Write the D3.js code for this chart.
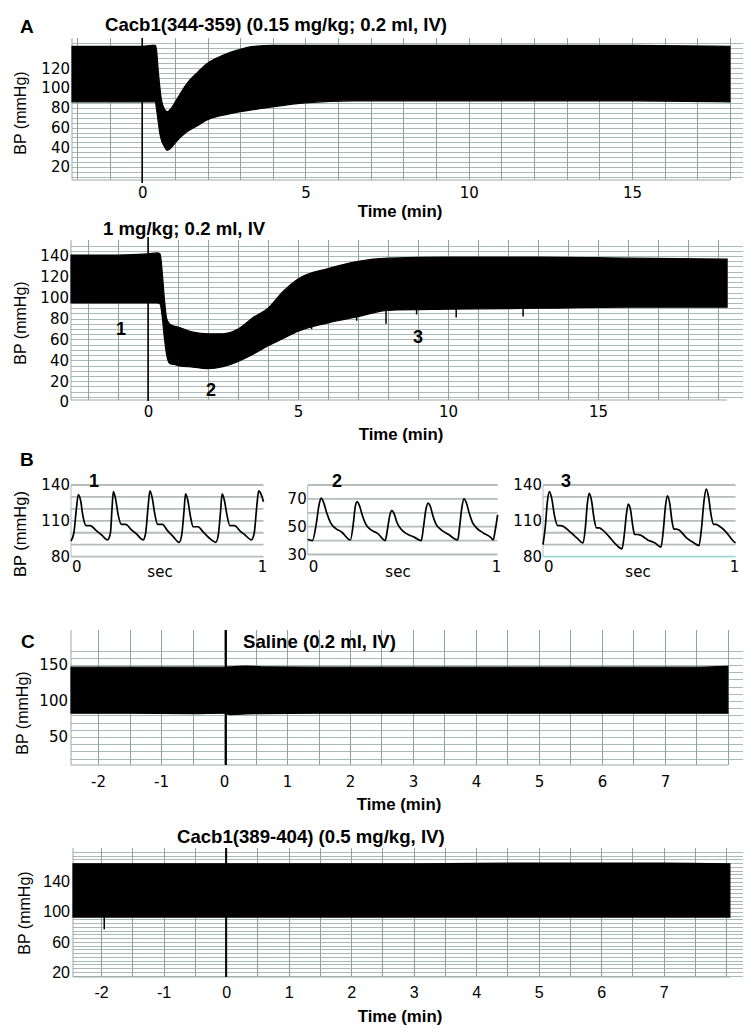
<!DOCTYPE html>
<html><head><meta charset="utf-8">
<script src="https://cdn.jsdelivr.net/npm/d3@7"></script>
<style>body{margin:0;background:#fff}svg{display:block}</style>
</head><body>
<svg id="c" width="754" height="1034"></svg>
<script>
// ---------------- DATA ----------------
// Panel A (top): Cacb1(344-359) 0.15 mg/kg — BP envelope (mmHg) vs time (min)
const a1Time  = [-2.15, -1, 0, 0.30, 0.40, 0.44, 0.49, 0.54, 0.59, 0.66, 0.77, 0.90, 1.05, 1.38, 1.70, 2.00, 2.40, 2.70, 3.00, 3.40, 4.00, 5.00, 6.50, 9, 12, 15, 18];
const a1Upper = [142, 142, 142, 143, 143, 138, 118, 101, 88, 80, 76, 80, 88, 105, 116, 125, 132, 136, 139, 142, 143, 143, 143, 143, 143, 143, 142];
const a1Lower = [86, 86, 86, 86, 86, 78, 66, 54, 47, 42, 37, 40, 46, 56, 62, 68, 72, 74, 76, 78, 81, 85, 87, 87, 87, 87, 86];
const a1YTicks = [20, 40, 60, 80, 100, 120];
const a1XTicks = [0, 5, 10, 15];

// Panel A (bottom): 1 mg/kg
const a2Time  = [-2.57, -1, 0, 0.30, 0.40, 0.47, 0.54, 0.62, 0.72, 0.85, 1.0, 1.5, 2.0, 2.5, 3.0, 3.5, 4.0, 4.5, 5.0, 6.0, 7.0, 8.0, 10, 13, 16, 19.3];
const a2Upper = [141, 141, 142, 143, 142, 125, 100, 80, 75, 73, 72, 67, 65.5, 65.5, 70, 81, 90, 106, 118, 128, 135, 138, 139, 139, 138, 137];
const a2Lower = [95, 95, 95, 95, 94, 82, 62, 45, 37, 36, 35, 33.5, 32, 34, 39, 46, 54, 61, 68, 76, 82, 88, 89, 90, 91, 91];
const a2SpikeT  = [5.45, 6.95, 7.93, 8.95, 10.27, 12.5];
const a2SpikeLo = [70, 78, 75, 84, 81, 82];
const a2YTicks = [0, 20, 40, 60, 80, 100, 120, 140];
const a2XTicks = [0, 5, 10, 15];
const a2Marks = ["1", "2", "3"];
const a2MarkT = [-0.9, 2.1, 9.0];
const a2MarkV = [70, 12, 62];

// Panel B: 1-s waveform excerpts (sec, mmHg)
const b1T = [0, 0.015, 0.028, 0.038, 0.05, 0.062, 0.078, 0.10, 0.13, 0.16, 0.19,
  0.205, 0.213, 0.22, 0.232, 0.245, 0.262, 0.285, 0.31, 0.34, 0.375,
  0.388, 0.40, 0.41, 0.422, 0.435, 0.45, 0.475, 0.50, 0.53, 0.562,
  0.575, 0.587, 0.595, 0.607, 0.62, 0.635, 0.66, 0.685, 0.715, 0.752,
  0.765, 0.777, 0.785, 0.797, 0.81, 0.825, 0.85, 0.875, 0.905, 0.937,
  0.952, 0.965, 0.975, 0.988, 1.0];
const b1V = [93, 100, 120, 132, 127, 114, 106, 106, 102, 98, 94,
  100, 120, 134.5, 128, 115, 107, 107, 103, 99, 94,
  100, 121, 135, 129, 116, 107, 107, 102, 97, 92,
  98, 118, 132.5, 127, 114, 105, 105, 101, 96, 92,
  98, 118, 132.5, 127, 115, 106, 106, 102, 98, 94,
  100, 122, 135, 132, 126];
const b2T = [0, 0.025, 0.045, 0.06, 0.071, 0.085, 0.10, 0.12, 0.145, 0.18, 0.225,
  0.24, 0.25, 0.26, 0.273, 0.288, 0.305, 0.33, 0.37, 0.408,
  0.42, 0.432, 0.443, 0.456, 0.47, 0.49, 0.52, 0.56, 0.598,
  0.61, 0.622, 0.633, 0.646, 0.66, 0.675, 0.70, 0.74, 0.79,
  0.80, 0.812, 0.823, 0.836, 0.85, 0.868, 0.89, 0.925, 0.962, 0.977,
  0.988, 1.0];
const b2V = [41, 40, 52, 66, 70.5, 67, 60, 53, 49, 46, 40.5,
  52, 64, 68, 65, 58, 52, 48, 45, 40,
  48, 58, 61.5, 59, 53, 48.5, 45, 42.5, 40,
  50, 62, 67, 64.5, 57.5, 52, 48, 44.5, 40.5,
  50, 64, 70, 67, 60, 53, 49, 45.5, 42.5, 40.5,
  48, 58.5];
const b3T = [0, 0.012, 0.022, 0.033, 0.045, 0.06, 0.076, 0.092, 0.106, 0.139, 0.177, 0.208,
  0.22, 0.23, 0.24, 0.252, 0.265, 0.278, 0.292, 0.304, 0.342, 0.38, 0.41,
  0.422, 0.433, 0.443, 0.455, 0.466, 0.476, 0.49, 0.506, 0.544, 0.582, 0.613,
  0.625, 0.636, 0.646, 0.658, 0.67, 0.68, 0.693, 0.704, 0.747, 0.785, 0.81,
  0.823, 0.836, 0.848, 0.86, 0.873, 0.886, 0.90, 0.911, 0.949, 0.987, 1.0];
const b3V = [90, 105, 125, 134.5, 129, 114, 106, 106, 105.3, 101, 95.5, 91.4,
  104, 124, 133, 127, 112, 104, 104, 103, 97, 90, 86.4,
  98, 115, 124, 119, 106, 98.5, 98.5, 98, 94, 91.4, 88,
  102, 122, 131, 125, 110, 103, 103, 102.5, 95.5, 91.4, 89.2,
  103, 126, 136.5, 130, 115, 107, 107, 106, 101, 93.3, 91.4];
const b13YTicks = [80, 110, 140];
const b2YTicks = [30, 50, 70];
const bXTicks = [0, 1];

// Panel C (top): Saline
const c1Time  = [-2.43, -1.5, -0.5, 0.0, 0.1, 0.35, 0.6, 1.5, 3, 4.5, 6, 7.5, 8.0];
const c1Upper = [147, 147, 147, 147, 147.5, 148.5, 147.5, 147, 147, 147, 147, 147, 148];
const c1Lower = [83, 83, 82.5, 83, 81, 82, 82.5, 83, 83, 83, 83, 83, 83];
const c1YTicks = [50, 100, 150];
// Panel C (bottom): Cacb1(389-404)
const c2Time  = [-2.45, -1, 0, 1, 3, 5, 7, 8.06];
const c2Upper = [164, 164, 164, 164, 164, 165, 165, 164];
const c2Lower = [93, 93, 93, 93, 93, 93, 93, 93];
const c2SpikeT  = [-1.95];
const c2SpikeLo = [77];
const c2YTicks = [20, 60, 100, 140];
const cXTicks = [-2, -1, 0, 1, 2, 3, 4, 5, 6, 7];

// ---------------- DRAW ----------------
const svg = d3.select('#c');
const GRID_H = '#a9bbb7', GRID_V = '#8ea3a0', AXIS = '#9ea8a6';
const BOLD = "'Liberation Sans', Arial, sans-serif";
const TICK = "'DejaVu Sans', Verdana, sans-serif";
const snap = v => Math.round(v) + 0.5;

function text(x, y, s, o = {}) {
  return svg.append('text').attr('x', x).attr('y', y).text(s)
    .attr('font-family', o.font || BOLD).attr('font-size', o.size || 18.6)
    .attr('font-weight', o.weight || 'bold').attr('text-anchor', o.anchor || 'start')
    .attr('fill', '#000');
}
function yLabel(cx, cy, size) {
  svg.append('text').attr('transform', `translate(${cx},${cy}) rotate(-90)`)
    .attr('text-anchor', 'middle').attr('dy', '0.35em')
    .attr('font-family', BOLD).attr('font-size', size || 16).text('BP (mmHg)');
}

function tracePanel(o) {
  const x = d3.scaleLinear().domain(o.xDomain).range(o.xRange);
  const y = d3.scaleLinear().domain(o.yDomain).range(o.yRange);
  const g = svg.append('g');
  const [xl, xr] = o.xRange, yb = o.yRange[0];
  g.selectAll('line.h').data(o.hGrid).join('line').attr('class', 'h')
    .attr('x1', xl).attr('x2', xr).attr('y1', d => snap(y(d))).attr('y2', d => snap(y(d)))
    .attr('stroke', GRID_H).attr('stroke-width', 1);
  g.selectAll('line.v').data(o.vGrid).join('line').attr('class', 'v')
    .attr('x1', d => snap(x(d))).attr('x2', d => snap(x(d))).attr('y1', o.vTop).attr('y2', yb)
    .attr('stroke', GRID_V).attr('stroke-width', 1);
  g.append('line').attr('x1', xl).attr('x2', xl).attr('y1', o.vTop).attr('y2', yb).attr('stroke', AXIS);
  g.append('line').attr('x1', xl).attr('x2', x(o.time[o.time.length - 1])).attr('y1', yb).attr('y2', yb)
    .attr('stroke', AXIS).attr('stroke-width', 1.2);
  const rows = o.time.map((t, i) => ({ t, hi: o.upper[i], lo: o.lower[i] }));
  g.append('path').datum(rows)
    .attr('d', d3.area().x(d => x(d.t)).y0(d => y(d.lo)).y1(d => y(d.hi)).curve(d3.curveMonotoneX))
    .attr('fill', '#000').attr('stroke', '#000').attr('stroke-width', 1.2);
  if (o.spikeT) {
    const sp = o.spikeT.map((t, i) => ({ t, lo: o.spikeLo[i] }));
    const loAt = d3.scaleLinear().domain(o.time).range(o.lower);
    g.selectAll('line.sp').data(sp).join('line').attr('class', 'sp')
      .attr('x1', d => x(d.t)).attr('x2', d => x(d.t))
      .attr('y1', d => y(loAt(d.t) + 3)).attr('y2', d => y(d.lo))
      .attr('stroke', '#000').attr('stroke-width', 1.5);
  }
  g.append('line').attr('x1', x(o.markerT)).attr('x2', x(o.markerT))
    .attr('y1', o.markerTop).attr('y2', o.markerBottom)
    .attr('stroke', '#000').attr('stroke-width', o.markerW || 1.6);
  const ya = g.append('g').attr('transform', `translate(${xl},0)`)
    .call(d3.axisLeft(y).tickValues(o.yTicks).tickSize(0).tickPadding(o.yPad).tickFormat(d => String(d)));
  ya.select('.domain').remove();
  ya.attr('font-family', o.tickFont).attr('font-size', o.tickSize);
  ya.selectAll('text').attr('fill', '#000');
  const xa = g.append('g').attr('transform', `translate(0,${yb})`)
    .call(d3.axisBottom(x).tickValues(o.xTicks).tickSize(0).tickPadding(o.xPad).tickFormat(d => String(d)));
  xa.select('.domain').remove();
  xa.attr('font-family', o.tickFont).attr('font-size', o.tickSize);
  xa.selectAll('text').attr('fill', '#000');
  return { x, y };
}

function wavePanel(o) {
  const x = d3.scaleLinear().domain([0, 1]).range(o.xRange);
  const y = d3.scaleLinear().domain(o.yDomain).range(o.yRange);
  const g = svg.append('g');
  g.selectAll('line.h').data(o.hGrid).join('line')
    .attr('x1', o.xRange[0]).attr('x2', o.xRange[1]).attr('y1', d => y(d)).attr('y2', d => y(d))
    .attr('stroke', (d, i) => (o.tealBottom && i === 0) ? '#9fdccd' : '#b5bcb9').attr('stroke-width', 1.8);
  g.append('line').attr('x1', o.xRange[0]).attr('x2', o.xRange[0])
    .attr('y1', o.yRange[1]).attr('y2', o.yRange[0]).attr('stroke', '#b5bcb9').attr('stroke-width', 1);
  const pts = o.t.map((t, i) => [t, o.v[i]]);
  g.append('path').datum(pts)
    .attr('d', d3.line().x(d => x(d[0])).y(d => y(d[1])).curve(d3.curveMonotoneX))
    .attr('fill', 'none').attr('stroke', '#000').attr('stroke-width', 1.7);
  const ya = g.append('g').attr('transform', `translate(${o.xRange[0]},0)`)
    .call(d3.axisLeft(y).tickValues(o.yTicks).tickSize(0).tickPadding(1).tickFormat(d => String(d)));
  ya.select('.domain').remove();
  ya.attr('font-family', TICK).attr('font-size', 15);
  ya.selectAll('text').attr('fill', '#000');
  g.selectAll('text.xt').data(bXTicks).join('text').attr('class', 'xt')
    .attr('x', d => d === 0 ? x(d) + 1 : x(d) - 1).attr('y', 572)
    .attr('text-anchor', d => d === 0 ? 'start' : 'middle')
    .attr('font-family', TICK).attr('font-size', 15).attr('fill', '#000')
    .text(d => String(d));
  text(o.secX, 577, 'sec', { font: TICK, size: 15, weight: 'normal', anchor: 'middle' });
  text(o.labX, 487, o.label, { size: 18 });
}

// ---- Panel A top ----
text(20, 33, 'A', { size: 19 });
text(105, 31, 'Cacb1(344-359) (0.15 mg/kg; 0.2 ml, IV)');
tracePanel({
  xDomain: [-2.15, 18.4], xRange: [72, 743], yDomain: [7, 148.5], yRange: [180, 40],
  hGrid: d3.range(10, 146, 5), vGrid: d3.range(-2, 19, 1), vTop: 38,
  time: a1Time, upper: a1Upper, lower: a1Lower,
  markerT: 0, markerTop: 38, markerBottom: 183,
  yTicks: a1YTicks, xTicks: a1XTicks, yPad: 2, xPad: 7, tickFont: TICK, tickSize: 15
});
yLabel(20, 113);
text(400, 217, 'Time (min)', { size: 16.8, anchor: 'middle' });

// ---- Panel A bottom ----
text(103, 235, '1 mg/kg; 0.2 ml, IV');
const A2 = tracePanel({
  xDomain: [-2.57, 19.83], xRange: [71, 743], yDomain: [2, 155], yRange: [400, 240.4],
  hGrid: d3.range(5, 151, 5), vGrid: d3.range(-2, 20, 1), vTop: 240,
  time: a2Time, upper: a2Upper, lower: a2Lower, spikeT: a2SpikeT, spikeLo: a2SpikeLo,
  markerT: 0, markerTop: 237, markerBottom: 401,
  yTicks: a2YTicks, xTicks: a2XTicks, yPad: 2, xPad: 6, tickFont: TICK, tickSize: 15
});
a2Marks.forEach((m, i) => text(A2.x(a2MarkT[i]), A2.y(a2MarkV[i]) + 6, m, { size: 18, anchor: 'middle' }));
yLabel(20, 323);
text(401, 440, 'Time (min)', { size: 16.8, anchor: 'middle' });

// ---- Panel B ----
text(20, 466, 'B', { size: 19 });
wavePanel({ xRange: [71, 263.5], yDomain: [80, 140], yRange: [556.6, 485], hGrid: d3.range(80, 141, 10),
  yTicks: b13YTicks, t: b1T, v: b1V, label: '1', labX: 89, secX: 160 });
wavePanel({ xRange: [307.7, 497.6], yDomain: [30, 80], yRange: [554.5, 485], hGrid: d3.range(30, 81, 10),
  yTicks: b2YTicks, t: b2T, v: b2V, label: '2', labX: 332, secX: 398 });
wavePanel({ xRange: [543, 735.5], yDomain: [80, 140], yRange: [556.6, 485], hGrid: d3.range(80, 141, 10),
  yTicks: b13YTicks, t: b3T, v: b3V, label: '3', labX: 561, secX: 638, tealBottom: true });
yLabel(20, 534, 16.5);

// ---- Panel C top ----
text(21, 648, 'C', { size: 19 });
tracePanel({
  xDomain: [-2.43, 8.24], xRange: [71, 743], yDomain: [11, 198.6], yRange: [765, 630],
  hGrid: d3.range(20, 171, 10), vGrid: d3.range(-2, 8.01, 0.5), vTop: 630,
  time: c1Time, upper: c1Upper, lower: c1Lower,
  markerT: 0.03, markerTop: 630, markerBottom: 765, markerW: 2,
  yTicks: c1YTicks, xTicks: cXTicks, yPad: 3, xPad: 11, tickFont: TICK, tickSize: 15
});
text(243, 648, 'Saline (0.2 ml, IV)');
yLabel(22, 713);
text(399, 810, 'Time (min)', { size: 16.8, anchor: 'middle' });

// ---- Panel C bottom ----
text(177, 843, 'Cacb1(389-404) (0.5 mg/kg, IV)');
tracePanel({
  xDomain: [-2.45, 8.27], xRange: [73, 743], yDomain: [13.3, 185], yRange: [977, 848],
  hGrid: d3.range(15, 181, 5), vGrid: d3.range(-2, 8.01, 0.5), vTop: 848,
  time: c2Time, upper: c2Upper, lower: c2Lower, spikeT: c2SpikeT, spikeLo: c2SpikeLo,
  markerT: 0, markerTop: 848, markerBottom: 977, markerW: 2,
  yTicks: c2YTicks, xTicks: cXTicks, yPad: 3, xPad: 10, tickFont: BOLD, tickSize: 16
});
yLabel(24, 913);
text(400, 1022, 'Time (min)', { size: 16.8, anchor: 'middle' });
</script>
</body></html>
